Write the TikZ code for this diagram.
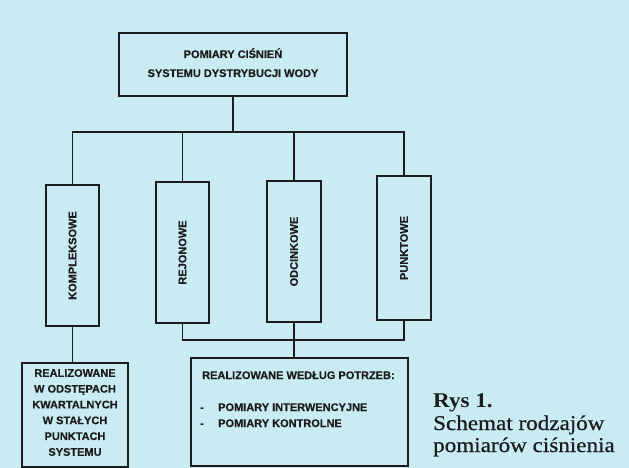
\documentclass[tikz,border=0pt]{standalone}
\usepackage{fontspec}
\setmainfont{Liberation Sans}
\newfontfamily\capfont[FakeStretch=1.1,FakeBold=0.6]{Liberation Serif}
\newfontfamily\capbold[FakeStretch=1.1]{Liberation Serif Bold}
\newfontfamily\lblfont[FakeBold=0.4]{Liberation Sans Bold}
\definecolor{bgc}{RGB}{200,236,242}
\definecolor{ink}{RGB}{28,28,30}
\begin{document}
\begin{tikzpicture}[x=1pt,y=-1pt,
  box/.style={draw=ink,line width=1.8pt,inner sep=0pt,fill=none},
  lbl/.style={text=ink,inner sep=0pt,font=\lblfont\fontsize{11}{15.8}\selectfont},
  conn/.style={draw=ink,line width=1.8pt},
  capt/.style={text=ink,inner sep=0pt,anchor=base west,font=\capfont\fontsize{21}{22}\selectfont}]
\fill[bgc] (0,0) rectangle (629,468);
\useasboundingbox (0,0) rectangle (629,468);
% top box
\node[box,minimum width=228pt,minimum height=63pt] (T) at (233,64.5) {};
\node[lbl,anchor=base] (T1) at (233,58) {POMIARY CIŚNIEŃ};
\node[lbl,anchor=base] (T2) at (233,77) {SYSTEMU DYSTRYBUCJI WODY};
% vertical boxes
\node[box,minimum width=53pt,minimum height=141pt] (K) at (72.5,255.5) {};
\node[lbl,rotate=90] (Kt) at (K.center) {KOMPLEKSOWE};
\node[box,minimum width=53pt,minimum height=141pt] (Rj) at (182.5,252.5) {};
\node[lbl,rotate=90] (Rjt) at (Rj.center) {REJONOWE};
\node[box,minimum width=54pt,minimum height=141pt] (O) at (294,251.5) {};
\node[lbl,rotate=90] (Ot) at (O.center) {ODCINKOWE};
\node[box,minimum width=54pt,minimum height=144pt] (P) at (404,248) {};
\node[lbl,rotate=90] (Pt) at (P.center) {PUNKTOWE};
% bottom boxes
\node[box,minimum width=106pt,minimum height=104pt] (L) at (75,415) {};
\node[lbl,align=center] (Lt) at (75,412.5) {REALIZOWANE\\W ODSTĘPACH\\KWARTALNYCH\\W STAŁYCH\\PUNKTACH\\SYSTEMU};
\node[box,minimum width=217pt,minimum height=108pt] (R) at (299.5,412) {};
\node[lbl,anchor=base west] (R1) at (202,379) {REALIZOWANE WEDŁUG POTRZEB:};
\node[lbl,anchor=base west] (D1) at (200,411) {-};
\node[lbl,anchor=base west] (R2) at (218,411) {POMIARY INTERWENCYJNE};
\node[lbl,anchor=base west] (D2) at (200,427) {-};
\node[lbl,anchor=base west] (R3) at (218,427) {POMIARY KONTROLNE};
% connectors
\coordinate (bt) at (233,132);
\coordinate (bb) at (294,340);
\draw[conn] (T.south) -- (bt);
\draw[conn] (K.north) |- (bt) -| (P.north);
\draw[conn] (Rj.north) -- (Rj.north |- bt);
\draw[conn] (O.north) -- (O.north |- bt);
\draw[conn] (Rj.south) |- (bb) -| (P.south);
\draw[conn] (O.south) -- (O.south |- R.north);
\draw[conn] (K.south) -- (K.south |- L.north);
% caption
\node[capt,font=\capbold\fontsize{21}{22}\selectfont] (C1) at (433,407) {Rys 1.};
\node[capt] (C2) at (433,430) {Schemat rodzajów};
\node[capt] (C3) at (433,452) {pomiarów ciśnienia};
\end{tikzpicture}
\end{document}
